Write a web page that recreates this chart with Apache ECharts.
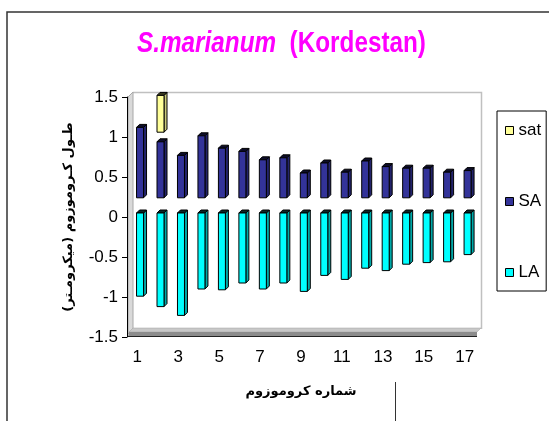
<!DOCTYPE html>
<html><head><meta charset="utf-8">
<script src="https://cdn.jsdelivr.net/npm/echarts@6/dist/echarts.min.js"></script>
<style>html,body{margin:0;padding:0;background:#fff}#c{width:549px;height:421px}</style>
</head><body><div id="c"></div>
<script>
// ---- data ----
const chromosomes = ['1','2','3','4','5','6','7','8','9','10','11','12','13','14','15','16','17'];
const laStart = 0.05;          // LA arm drawn from here downward
const LA = [-0.99,-1.12,-1.23,-0.90,-0.91,-0.825,-0.90,-0.825,-0.93,-0.73,-0.78,-0.64,-0.67,-0.59,-0.57,-0.56,-0.47];
const saStart = 0.24;          // SA arm drawn from here upward
const SA = [0.88,0.70,0.53,0.775,0.62,0.58,0.475,0.50,0.31,0.435,0.32,0.46,0.39,0.37,0.37,0.32,0.34];
const satGap = 0.12;
const SAT = [null,0.46,null,null,null,null,null,null,null,null,null,null,null,null,null,null,null];
const yTicks = {min:-1.5, max:1.5, step:0.5};
const titleItalic = 'S.marianum';
const titlePlain = '(Kordestan)';
const xName = 'شماره کروموزوم';
const yName = 'طـول کـروموزوم (میکرومـتر)';

const FONT = '"Liberation Sans", Arial, sans-serif';
const AR = '"DejaVu Sans", sans-serif';

function bar3D(face, side, cap){
  return function(params, api){
    const idx = api.value(0), lo = api.value(1), hi = api.value(2);
    const pLo = api.coord([idx, lo]), pHi = api.coord([idx, hi]);
    const w = 7, d = 3, x0 = pLo[0] - 0.7;
    const yT = pHi[1], yB = pLo[1];
    return {type:'group', children:[
      {type:'polygon', shape:{points:[[x0+w,yT],[x0+w+d,yT-d],[x0+w+d,yB-d],[x0+w,yB]]}, style:{fill:side, stroke:'#000', lineWidth:1}},
      {type:'polygon', shape:{points:[[x0,yT],[x0+d,yT-d],[x0+w+d,yT-d],[x0+w,yT]]}, style:{fill:cap, stroke:'#000', lineWidth:1}},
      {type:'rect', shape:{x:x0, y:yT, width:w, height:yB-yT}, style:{fill:face, stroke:'#000', lineWidth:1}}
    ]};
  };
}

const laData = LA.map((v,i)=>[i, v, laStart]);
const saData = SA.map((v,i)=>[i, saStart, saStart+v]);
const satData = SAT.map((v,i)=> v==null ? null : [i, saStart+SA[i]+satGap, saStart+SA[i]+satGap+v]).filter(d=>d);

const chart = echarts.init(document.getElementById('c'), null, {renderer:'canvas'});
chart.setOption({
  animation:false,
  backgroundColor:'#fff',
  legend:{
    orient:'vertical', left:497, top:111,
    data:['sat','SA','LA'],
    icon:'rect', itemWidth:8, itemHeight:8, itemGap:54, textGap:7,
    padding:[11,5,10,8],
    borderColor:'#000', borderWidth:1,
    itemStyle:{borderColor:'#000', borderWidth:1},
    textStyle:{fontFamily:FONT, fontSize:17, color:'#000'}
  },
  grid:{left:127, right:74, top:97, bottom:84},
  xAxis:{
    type:'category', data:chromosomes,
    axisLine:{show:false}, axisTick:{show:false},
    axisLabel:{interval:1, margin:12, fontFamily:FONT, fontSize:17, color:'#000'},
    name:xName, nameLocation:'middle', nameGap:55,
    nameTextStyle:{fontFamily:AR, fontWeight:'bold', fontSize:13, color:'#000', verticalAlign:'middle'}
  },
  yAxis:{
    type:'value', min:yTicks.min, max:yTicks.max, interval:yTicks.step,
    splitLine:{show:false},
    axisLine:{show:true, onZero:false, lineStyle:{color:'#000', width:1}},
    axisTick:{show:true, length:5, lineStyle:{color:'#000'}},
    axisLabel:{margin:9, fontFamily:FONT, fontSize:17, color:'#000'},
    name:yName, nameLocation:'middle', nameGap:58, nameRotate:90,
    nameTextStyle:{fontFamily:AR, fontWeight:'bold', fontSize:13, color:'#000', verticalAlign:'middle'}
  },
  graphic:[
    // title (horizontally condensed like the reference)
    {type:'text', x:137, y:44, scaleX:0.81, scaleY:1, z:10,
     style:{text:'{i|'+titleItalic+'}  {b|'+titlePlain+'}', verticalAlign:'middle',
       fill:'#FF00FF', fontSize:30, fontWeight:'bold', fontFamily:FONT,
       rich:{
         i:{fill:'#FF00FF', fontSize:30, fontWeight:'bold', fontStyle:'italic', fontFamily:FONT},
         b:{fill:'#FF00FF', fontSize:30, fontWeight:'bold', fontFamily:FONT}
       }}},
    // outer chart-area border
    {type:'polyline', z:0, shape:{points:[[7,421],[7,12],[549,12]]}, style:{stroke:'#333', lineWidth:1.5, fill:null}},
    {type:'line', z:0, shape:{x1:395.5,y1:382,x2:395.5,y2:421}, style:{stroke:'#333', lineWidth:1}},
    // back wall frame
    {type:'polyline', z:0, shape:{points:[[133,92.5],[481.5,92.5],[481.5,329]]}, style:{stroke:'#c0c0c0', lineWidth:1.5, fill:null}},
    // left wall
    {type:'polygon', z:0, shape:{points:[[128,97],[133,92],[133,329],[128,334]]}, style:{fill:'#d9d9d9', stroke:'#a8a8a8', lineWidth:1}},
    // floor
    {type:'polygon', z:0, shape:{points:[[133,328],[481,328],[477,332],[129,332]]}, style:{fill:'#c8c8c8', stroke:'#a0a0a0', lineWidth:0.5}},
    {type:'polygon', z:0, shape:{points:[[129,332],[477,332],[477,336.5],[128,336.5]]}, style:{fill:'#8c8c8c'}},
    {type:'line', z:0, shape:{x1:128,y1:336.5,x2:477,y2:336.5}, style:{stroke:'#222', lineWidth:1}}
  ],
  series:[
    {name:'sat', type:'custom', renderItem:bar3D('#FFFF99','#c9c97a','#3a3a20'),
     itemStyle:{color:'#FFFF99'}, encode:{x:0, y:[1,2]}, data:satData, z:3},
    {name:'SA', type:'custom', renderItem:bar3D('#333399','#23236b','#0d0d2a'),
     itemStyle:{color:'#333399'}, encode:{x:0, y:[1,2]}, data:saData, z:3},
    {name:'LA', type:'custom', renderItem:bar3D('#00FFFF','#00a8a8','#0b2626'),
     itemStyle:{color:'#00FFFF'}, encode:{x:0, y:[1,2]}, data:laData, z:3}
  ]
});
</script></body></html>
